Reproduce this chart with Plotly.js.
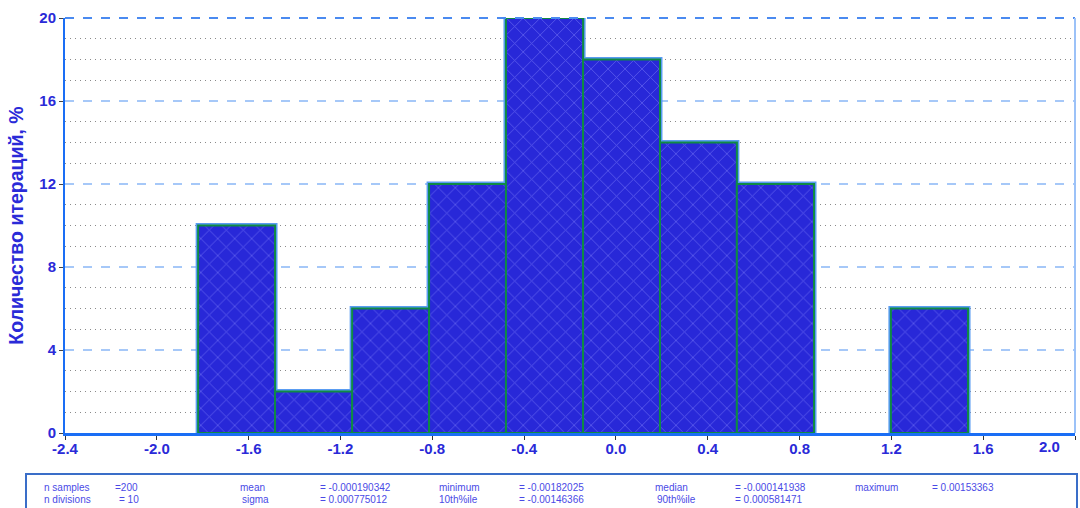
<!DOCTYPE html>
<html>
<head>
<meta charset="utf-8">
<script src="https://cdn.plot.ly/plotly-3.0.1.min.js"></script>
<style>html,body{margin:0;padding:0;background:#fff;}#chart{width:1080px;height:508px;}</style>
</head>
<body>
<div id="chart"></div>
<script>
// Bin edges (x axis units) and percentage of iterations in each bin
const binEdges = [-1.820, -1.485, -1.149, -0.814, -0.479, -0.143, 0.192, 0.527, 0.863, 1.198, 1.534];
const percents = [10, 2, 6, 12, 20, 18, 14, 12, 0, 6];

const xTickVals = [-2.4, -2.0, -1.6, -1.2, -0.8, -0.4, 0.0, 0.4, 0.8, 1.2, 1.6, 2.0];
const xTickText = ['-2.4', '-2.0', '-1.6', '-1.2', '-0.8', '-0.4', '0.0', '0.4', '0.8', '1.2', '1.6', ''];
const lastXLabel = '2.0';
const yTickStep = 4;
const yMinorStep = 1;
const yTitle = 'Количество итераций, %';

// Statistics box text
const statRow1Labels = ['n samples', 'mean', 'minimum', 'median', 'maximum'];
const statRow1Values = ['=200', '= -0.000190342', '= -0.00182025', '= -0.000141938', '= 0.00153363'];
const statRow2Labels = ['n divisions', 'sigma', '10th%ile', '90th%ile'];
const statRow2Values = ['= 10', '= 0.000775012', '= -0.00146366', '= 0.000581471'];

// empty bins are not drawn as bars
const centers = [], widths = [], heights = [];
percents.forEach((p, i) => {
  if (p > 0) {
    centers.push((binEdges[i] + binEdges[i + 1]) / 2);
    widths.push(binEdges[i + 1] - binEdges[i]);
    heights.push(p);
  }
});

const pattern = {shape: 'x', size: 12, solidity: 0.14, fgcolor: '#5a5aec', fgopacity: 1, fillmode: 'overlay'};
const glow = {
  type: 'bar', x: centers, y: heights, width: widths,
  marker: {color: '#2828d8', pattern: pattern, line: {color: '#5a9cf2', width: 5}},
  hoverinfo: 'skip', showlegend: false
};
const bars = {
  type: 'bar', x: centers, y: heights, width: widths,
  marker: {color: '#2828d8', pattern: pattern, line: {color: '#0f8a45', width: 2}},
  showlegend: false
};

// plot area in pixels: x 65..1075, y 18..433
const L = 65, R = 1075, T = 18, B = 433;
const px = v => (v - L) / (R - L);
const py = v => (B - v) / (B - T);

const rowY1 = py(487), rowY2 = py(500);
const col1LabelX = [42, 238, 437, 653, 853];
const col1ValX = [113, 318, 517, 733, 930];
const col2LabelX = [42, 240, 437, 655];
const col2ValX = [117, 318, 517, 733];

const statFont = {family: 'Liberation Sans, Arial, sans-serif', size: 10, color: '#4a4ae6'};
const annotations = [];
function addText(text, x, y) {
  annotations.push({text: text, xref: 'paper', yref: 'paper', x: px(x), y: y,
    xanchor: 'left', yanchor: 'middle', showarrow: false, font: statFont});
}
statRow1Labels.forEach((t, i) => addText(t, col1LabelX[i], rowY1));
statRow1Values.forEach((t, i) => addText(t, col1ValX[i], rowY1));
statRow2Labels.forEach((t, i) => addText(t, col2LabelX[i], rowY2));
statRow2Values.forEach((t, i) => addText(t, col2ValX[i], rowY2));

const tickFont = {family: 'Liberation Sans, Arial, sans-serif', size: 15, color: '#2a2ad8', weight: 'bold'};
annotations.push({text: lastXLabel, xref: 'paper', yref: 'paper', x: px(1062), y: py(447),
  xanchor: 'right', yanchor: 'middle', showarrow: false, font: tickFont});

const layout = {
  width: 1080, height: 508,
  margin: {l: L, r: 1080 - R, t: T, b: 508 - B, pad: 0},
  paper_bgcolor: '#ffffff', plot_bgcolor: '#ffffff',
  barmode: 'overlay', bargap: 0,
  xaxis: {
    range: [-2.4, 2.0], tickvals: xTickVals, ticktext: xTickText,
    showgrid: false, zeroline: false,
    showline: true, linecolor: '#1a6ef5', linewidth: 3,
    ticks: 'outside', ticklen: 4, tickcolor: '#333', tickwidth: 1,
    ticklabelstandoff: -4,
    tickfont: tickFont, automargin: false
  },
  yaxis: {
    range: [0, 20], tickmode: 'linear', tick0: 0, dtick: yTickStep,
    showgrid: true, gridcolor: '#a6c8f8', griddash: 'dash', gridwidth: 1.5,
    zeroline: false,
    showline: true, linecolor: '#1a6ef5', linewidth: 2,
    ticks: 'outside', ticklen: 4, tickcolor: '#444', tickwidth: 1,
    tickfont: tickFont, automargin: false,
    minor: {tick0: 0, dtick: yMinorStep, showgrid: true, gridcolor: '#8a8a8a', griddash: '1px,4px', gridwidth: 1, ticks: ''},
    title: {text: yTitle, standoff: 10,
      font: {family: 'Liberation Sans, Arial, sans-serif', size: 19.5, color: '#2a2ad8', weight: 'bold'}}
  },
  shapes: [
    {type: 'line', xref: 'paper', yref: 'paper', x0: 0, x1: 1, y0: 1, y1: 1,
      line: {color: '#4a8af0', width: 2, dash: 'dash'}},
    {type: 'line', xref: 'paper', yref: 'paper', x0: 1, x1: 1, y0: 0, y1: 1,
      line: {color: '#9cc2f8', width: 2}},
    {type: 'rect', xref: 'paper', yref: 'paper', x0: px(26), x1: px(1077), y0: py(474), y1: py(512),
      line: {color: '#3a6ec8', width: 2}, fillcolor: 'rgba(0,0,0,0)'}
  ],
  annotations: annotations
};

Plotly.newPlot('chart', [glow, bars], layout, {displayModeBar: false, staticPlot: true});
</script>
</body>
</html>
